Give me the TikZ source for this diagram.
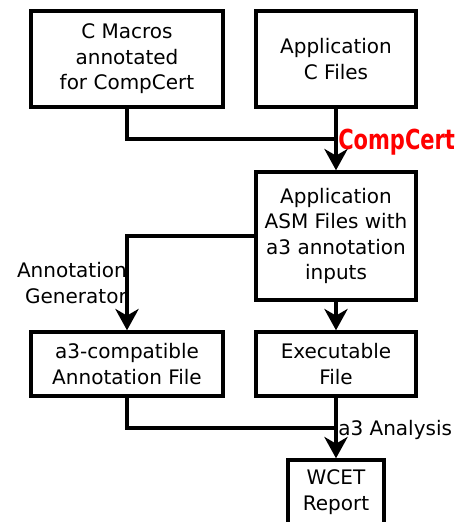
\documentclass[tikz,border=0pt]{standalone}
\usepackage{fontspec}
\usepackage{graphicx}
\setmainfont{DejaVu Sans}
\newfontfamily\condfont{DejaVu Sans Condensed}
\usetikzlibrary{arrows.meta}

\begin{document}
\begin{tikzpicture}[x=0.75pt,y=-0.75pt,
  box/.style={draw,line width=2.6pt,align=center,inner sep=0pt,font=\fontsize{15}{19.1}\selectfont},
  flow/.style={line width=2.6pt},
  arr/.style={flow,-{Stealth[length=16pt,width=17.5pt,inset=5pt]}},
  lbl/.style={inner sep=0pt,font=\fontsize{15}{19.1}\selectfont}]
\useasboundingbox (0,0) rectangle (459,522);
\clip (0,0) rectangle (459,522);
% Tool flow from annotated C sources to the WCET report
\node[box,minimum width=144pt,minimum height=72pt] (macros) at (127,59) {C Macros\\annotated\\for CompCert};
\node[box,minimum width=120pt,minimum height=72pt] (appc) at (336,59) {Application\\C Files};
\node[box,minimum width=120pt,minimum height=96pt] (asm) at (336,236) {Application\\ASM Files with\\a3 annotation\\inputs};
\node[box,minimum width=144pt,minimum height=48pt] (annot) at (127,364) {a3-compatible\\Annotation File};
\node[box,minimum width=120pt,minimum height=48pt] (exe) at (336,364) {Executable\\File};
\node[box,minimum width=72pt,minimum height=48pt] (wcet) at (336,492) {WCET\\Report};

\node[lbl,anchor=base west,text=red,font=\condfont\bfseries\fontsize{17.5}{20}\selectfont] (compcert) at (338,149) {\scalebox{1}[1.18]{CompCert}};
\node[lbl,anchor=east,align=right] (generator) at (127,283) {Annotation\\Generator};
\node[lbl,anchor=base west] (analysis) at (338,435) {a3 Analysis};

\coordinate (join1) at (336,139);
\coordinate (join2) at (336,428);
\draw[flow] (macros.south) |- (join1);
\draw[arr] (appc.south) -- (asm.north);
\draw[arr] (asm.west) -| (annot.north);
\draw[arr] (asm.south) -- (exe.north);
\draw[flow] (annot.south) |- (join2);
\draw[arr] (exe.south) -- (wcet.north);
\end{tikzpicture}
\end{document}
